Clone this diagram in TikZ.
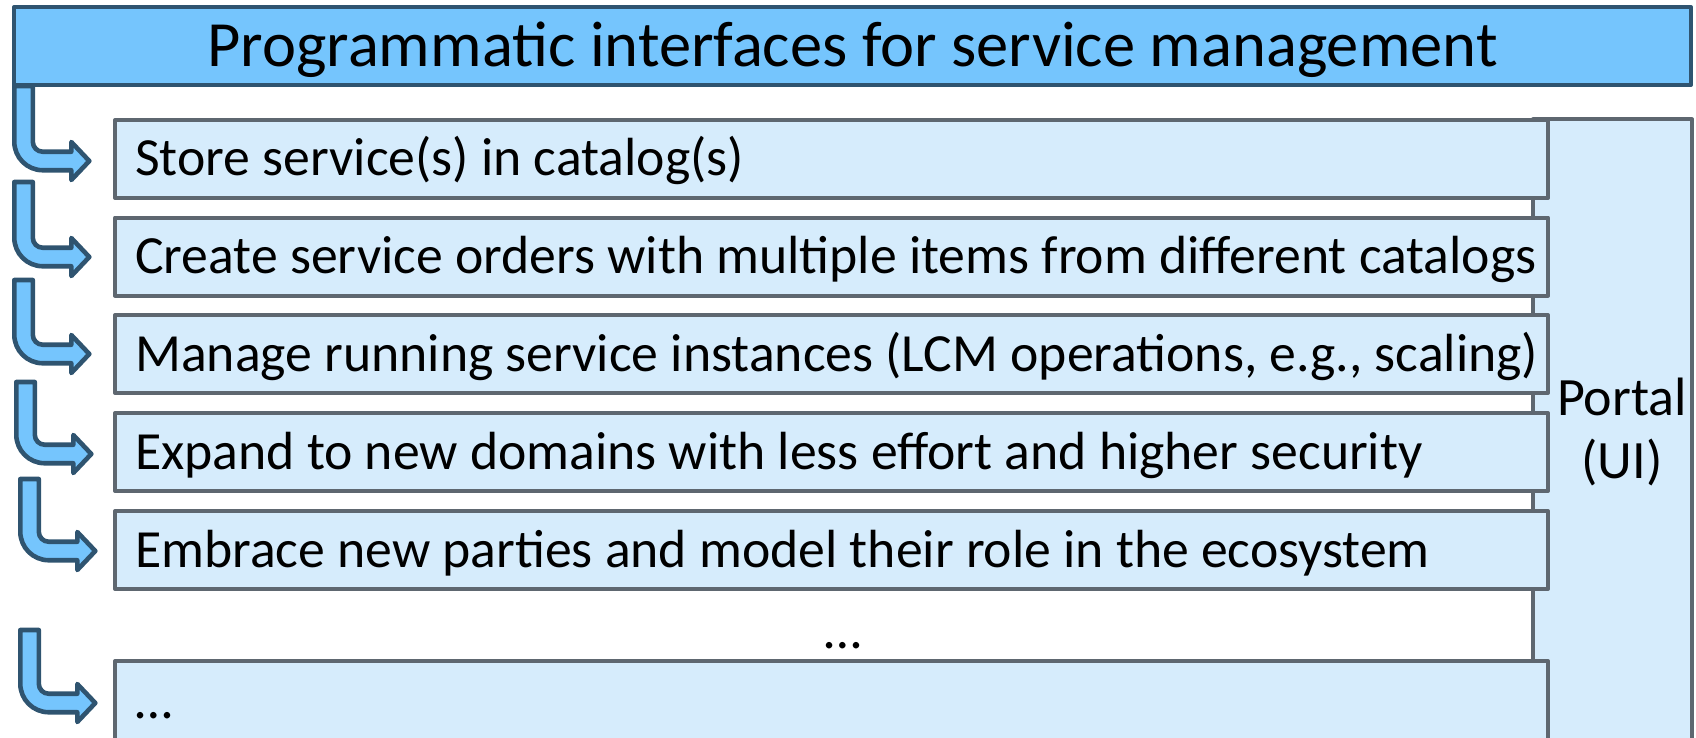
\documentclass[tikz,border=0pt]{standalone}
\usepackage{fontspec}
\setmainfont{Carlito}
\definecolor{barfill}{HTML}{75C5FD}
\definecolor{barline}{HTML}{2F5470}
\definecolor{boxfill}{HTML}{D6ECFC}
\definecolor{boxline}{HTML}{5E6770}
\tikzset{
  titlebar/.style={draw=barline, fill=barfill, line width=4pt, line join=round, inner sep=0pt, outer sep=0pt},
  itembox/.style={draw=boxline, fill=boxfill, line width=4pt, line join=round, inner sep=0pt, outer sep=0pt, anchor=north west, minimum width=1433pt, minimum height=78pt},
  portalbox/.style={draw=boxline, fill=boxfill, line width=4pt, line join=round, inner sep=0pt, outer sep=0pt, anchor=north west},
  bentarrow/.style={draw=barline, fill=barfill, line width=4.6pt, line join=round},
  itemtext/.style={font=\fontsize{53.7pt}{60pt}\selectfont, anchor=base west, inner sep=0pt},
  titletext/.style={font=\fontsize{64.5pt}{70pt}\selectfont, anchor=base, inner sep=0pt},
  portaltext/.style={font=\fontsize{54pt}{60pt}\selectfont, anchor=base, inner sep=0pt}
}
% #1 left x, #2 top y, #3 centre y of horizontal part
\newcommand\mybentarrow[3]{%
  \path[bentarrow] (#1,#2) -- (#1+18.5,#2) -- (#1+18.5,#3-9.25-10)
    arc[start angle=180, end angle=90, radius=10]
    -- (#1+57,#3-9.25) -- (#1+57,#3-19) -- (#1+75,#3) -- (#1+57,#3+19)
    -- (#1+57,#3+9.25) -- (#1+28.5,#3+9.25)
    arc[start angle=90, end angle=180, radius=28.5] -- cycle;}
\begin{document}
\begin{tikzpicture}[x=1pt, y=-1pt]
\useasboundingbox (0,0) rectangle (1696,738);
\clip (0,0) rectangle (1696,738);
% portal column
\node[portalbox, minimum width=159pt, minimum height=660pt] (portal) at (1533,119.5) {};
% item boxes
\node[itembox] (b1) at (115,120) {};
\node[itembox] (b2) at (115,217.5) {};
\node[itembox] (b3) at (115,315) {};
\node[itembox] (b4) at (115,413) {};
\node[itembox] (b5) at (115,511) {};
\node[itembox, minimum height=120pt] (b6) at (115,661) {};
% texts
\node[itemtext] (t1) at (135,176) {Store service(s) in catalog(s)};
\node[itemtext] (t2) at (135,273.5) {Create service orders with multiple items from different catalogs};
\node[itemtext] (t3) at (135,371) {Manage running service instances (LCM operations, e.g., scaling)};
\node[itemtext] (t4) at (135,469) {Expand to new domains with less effort and higher security};
\node[itemtext] (t5) at (135,567) {Embrace new parties and model their role in the ecosystem};
\node[itemtext] (gapdots) at (824,648) {…};
\node[itemtext] (t6) at (135,718) {…};
\node[portaltext] (pl1) at (1622,415) {Portal};
\node[portaltext] (pl2) at (1622,478) {(UI)};
% arrows
\mybentarrow{14.3}{86}{161}
\mybentarrow{14.3}{182}{257}
\mybentarrow{14.3}{280}{354}
\mybentarrow{16.3}{382}{454}
\mybentarrow{20.3}{479}{551}
\mybentarrow{20.3}{630}{703}
% title bar
\node[titlebar, anchor=north west, minimum width=1677pt, minimum height=78pt] (title) at (14,7) {};
\node[titletext] (titlelabel) at (title.center |- 0,67) {Programmatic interfaces for service management};
\end{tikzpicture}
\end{document}
